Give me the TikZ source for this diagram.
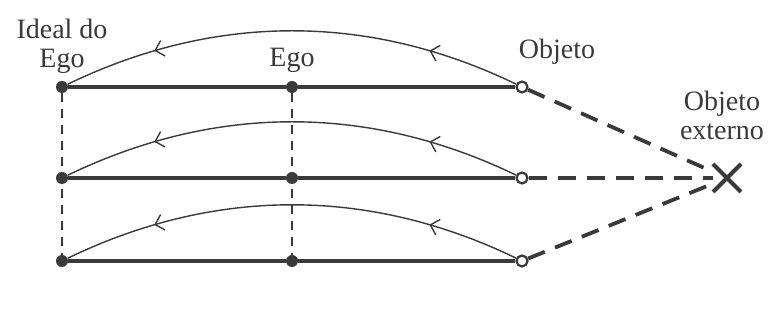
\documentclass[tikz,border=0pt]{standalone}
\usepackage{fontspec}
\setmainfont{Liberation Serif}
\usetikzlibrary{arrows.meta,positioning,decorations.markings,shapes.misc}
\definecolor{ink}{RGB}{58,58,58}

\begin{document}
\begin{tikzpicture}[x=1pt,y=1pt,
    dot/.style={circle,fill=ink,inner sep=0pt,minimum size=12pt},
    ring/.style={circle,draw=ink,line width=2.2pt,fill=white,
      inner sep=0pt,minimum size=11pt},
    bar/.style={draw=ink,line width=3.6pt},
    guide/.style={draw=ink,line width=1.5pt,dash pattern=on 9pt off 7pt},
    link/.style={draw=ink,line width=3.8pt,dash pattern=on 18pt off 11pt},
    flow/.style={draw=ink,line width=1.4pt,postaction={decorate},
      decoration={markings,
        mark=at position 0.2 with {\arrow{Straight Barb[length=8pt,width=16pt,line width=1.4pt]}},
        mark=at position 0.8 with {\arrow{Straight Barb[length=8pt,width=16pt,line width=1.4pt]}}}},
    lbl/.style={font=\fontsize{28}{29}\selectfont,text=ink,inner sep=1pt,align=center}]
  \useasboundingbox (0,0) rectangle (769,336);
  % three levels: ideal -- ego -- object
  \foreach \r/\y in {1/249,2/158,3/75}{
    \node[dot] (i\r) at (62,\y) {};
    \node[dot] (e\r) at (292,\y) {};
    \node[ring] (o\r) at (522,\y) {};
    \draw[bar] (i\r) -- (e\r) -- (o\r);
    \draw[flow] (o\r) .. controls +(-153,74) and +(153,74) .. (i\r);
  }
  \draw[guide] (i1) -- (i3);
  \draw[guide] (e1) -- (e3);
  % external object
  \node[cross out,draw=ink,line width=4pt,minimum size=24pt] (ext) at (727,158) {};
  \foreach \r in {1,2,3}
    \draw[link] (o\r) -- (ext);
  % labels
  \node[lbl,above=6pt of i1] (ideal) {Ideal do\\Ego};
  \node[lbl,above=7pt of e1] (ego) {Ego};
  \node[lbl,anchor=south west] (obj) at ([xshift=-9pt,yshift=17pt]o1.north east) {Objeto};
  \node[lbl,above=23pt of ext,xshift=-5pt] (extlbl) {Objeto\\externo};
\end{tikzpicture}
\end{document}
